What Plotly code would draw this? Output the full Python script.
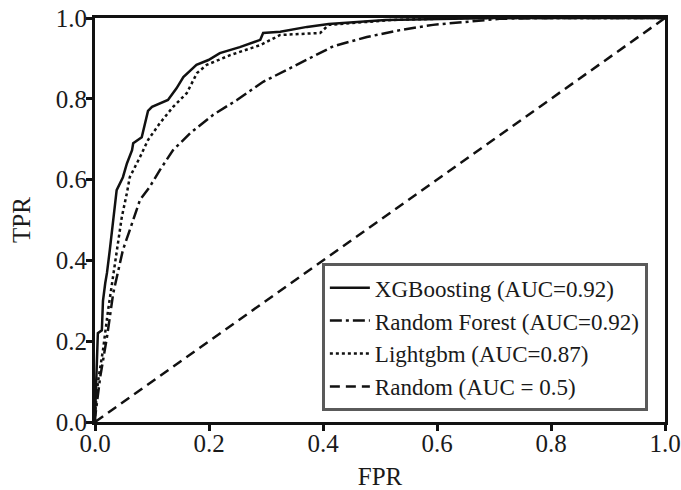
import plotly.graph_objects as go

xgb_fpr = [0, 0.0, 0.003, 0.005, 0.012, 0.014, 0.018, 0.021, 0.026, 0.032, 0.038, 0.049, 0.056, 0.065, 0.067,
           0.082, 0.093, 0.10, 0.128, 0.143, 0.155, 0.178, 0.199, 0.219, 0.254, 0.29, 0.295, 0.325, 0.372,
           0.41, 0.51, 0.7, 1.0]
xgb_tpr = [0, 0.01, 0.136, 0.22, 0.227, 0.30, 0.344, 0.369, 0.426, 0.507, 0.574, 0.606, 0.64, 0.673, 0.69,
           0.705, 0.77, 0.78, 0.797, 0.826, 0.854, 0.884, 0.896, 0.913, 0.928, 0.946, 0.963, 0.966, 0.978,
           0.985, 0.995, 1.0, 1.0]

rf_fpr = [0, 0.0, 0.009, 0.021, 0.032, 0.049, 0.061, 0.079, 0.096, 0.114, 0.137, 0.167, 0.207, 0.249,
          0.295, 0.354, 0.418, 0.477, 0.535, 0.593, 0.653, 0.71, 0.8, 1.0]
rf_tpr = [0, 0.01, 0.11, 0.21, 0.319, 0.426, 0.475, 0.55, 0.582, 0.624, 0.673, 0.715, 0.76, 0.797,
          0.842, 0.884, 0.93, 0.953, 0.97, 0.983, 0.99, 0.998, 1.0, 1.0]

lgb_fpr = [0, 0.0, 0.005, 0.014, 0.023, 0.03, 0.038, 0.047, 0.056, 0.061, 0.079, 0.093, 0.114, 0.137,
           0.161, 0.179, 0.196, 0.237, 0.29, 0.325, 0.395, 0.41, 0.52, 0.65, 1.0]
lgb_tpr = [0, 0.02, 0.097, 0.178, 0.277, 0.344, 0.426, 0.507, 0.567, 0.606, 0.656, 0.698, 0.74, 0.78,
           0.814, 0.864, 0.884, 0.908, 0.933, 0.958, 0.963, 0.983, 0.995, 1.0, 1.0]

rand_fpr = [0, 1]
rand_tpr = [0, 1]

names = ["XGBoosting (AUC=0.92)", "Random Forest (AUC=0.92)", "Lightgbm (AUC=0.87)", "Random (AUC = 0.5)"]
tick_vals = [0, 0.2, 0.4, 0.6, 0.8, 1.0]

FONT = "'Liberation Serif', 'Times New Roman', 'DejaVu Serif', serif"
TXT = "#1a1a1a"

fig = go.Figure()
fig.add_trace(go.Scatter(x=xgb_fpr, y=xgb_tpr, mode="lines", name=names[0],
                         line=dict(color="#111111", width=2.5)))
fig.add_trace(go.Scatter(x=rf_fpr, y=rf_tpr, mode="lines", name=names[1],
                         line=dict(color="#111111", width=2.5, dash="12px,4px,3px,4px")))
fig.add_trace(go.Scatter(x=lgb_fpr, y=lgb_tpr, mode="lines", name=names[2],
                         line=dict(color="#111111", width=2.5, dash="3px,3px")))
fig.add_trace(go.Scatter(x=rand_fpr, y=rand_tpr, mode="lines", name=names[3],
                         line=dict(color="#111111", width=2.5, dash="10px,6px")))

axis_common = dict(
    range=[0, 1], showgrid=False, zeroline=False, showline=True, linecolor="#111111", linewidth=3,
    mirror=True, ticks="outside", ticklen=6, tickwidth=3, tickcolor="#111111",
    tickvals=tick_vals, tickformat=".1f", tickfont=dict(family=FONT, size=25, color=TXT),
)
fig.update_xaxes(**axis_common, ticklabelstandoff=-9,
                 title=dict(text="FPR", font=dict(family=FONT, size=25, color=TXT), standoff=16))
fig.update_yaxes(**axis_common, ticklabelstandoff=-6,
                 title=dict(text="TPR", font=dict(family=FONT, size=25, color=TXT), standoff=19))

fig.update_layout(
    width=681, height=490,
    margin=dict(l=95, r=16, t=18, b=68, autoexpand=False),
    paper_bgcolor="white", plot_bgcolor="white",
    font=dict(family=FONT, color=TXT),
    showlegend=True,
    legend=dict(x=0.398, y=0.393, xanchor="left", yanchor="top",
                bordercolor="#5a5a5a", borderwidth=3, bgcolor="white",
                font=dict(family=FONT, size=23, color=TXT),
                itemwidth=40, tracegroupgap=0),
)

fig.write_html("out.html")
